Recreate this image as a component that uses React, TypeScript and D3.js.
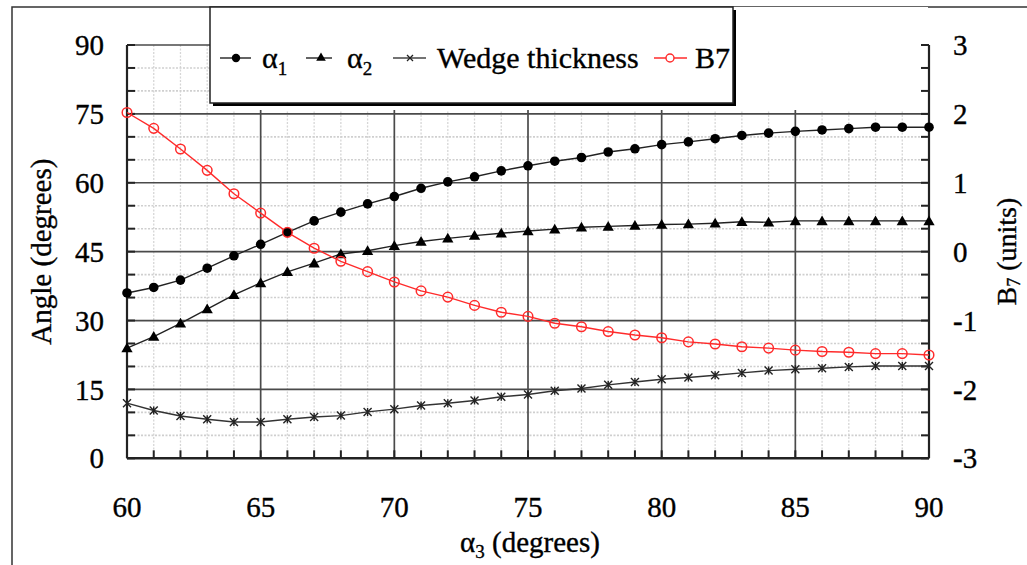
import React from "react";
import * as d3 from "d3";

const alpha3 = [60, 61, 62, 63, 64, 65, 66, 67, 68, 69, 70, 71, 72, 73, 74, 75, 76, 77, 78, 79, 80, 81, 82, 83, 84, 85, 86, 87, 88, 89, 90];
const alpha1 = [36.0, 37.2, 38.8, 41.4, 44.1, 46.6, 49.2, 51.7, 53.6, 55.4, 57.0, 58.8, 60.2, 61.3, 62.6, 63.7, 64.7, 65.5, 66.7, 67.4, 68.3, 68.9, 69.6, 70.3, 70.8, 71.2, 71.5, 71.8, 72.1, 72.1, 72.1];
const alpha2 = [24.0, 26.5, 29.4, 32.5, 35.6, 38.2, 40.6, 42.5, 44.5, 45.2, 46.3, 47.2, 47.9, 48.5, 49.0, 49.5, 49.9, 50.3, 50.5, 50.7, 50.9, 51.0, 51.2, 51.5, 51.4, 51.7, 51.7, 51.7, 51.7, 51.7, 51.7];
const wedge = [12.0, 10.4, 9.2, 8.5, 7.9, 7.9, 8.5, 9.0, 9.3, 10.1, 10.7, 11.5, 12.0, 12.6, 13.4, 13.9, 14.7, 15.2, 16.0, 16.6, 17.2, 17.6, 18.1, 18.6, 19.1, 19.4, 19.6, 19.9, 20.1, 20.1, 20.1];
const b7 = [2.02, 1.79, 1.49, 1.18, 0.84, 0.56, 0.28, 0.05, -0.14, -0.29, -0.44, -0.57, -0.66, -0.78, -0.88, -0.94, -1.04, -1.09, -1.16, -1.21, -1.25, -1.31, -1.34, -1.38, -1.40, -1.43, -1.45, -1.46, -1.48, -1.48, -1.50];

const xTicks = [60, 65, 70, 75, 80, 85, 90];
const xMinor = [61, 62, 63, 64, 66, 67, 68, 69, 71, 72, 73, 74, 76, 77, 78, 79, 81, 82, 83, 84, 86, 87, 88, 89];
const yLeftTicks = [0, 15, 30, 45, 60, 75, 90];
const yLeftMinor = [5, 10, 20, 25, 35, 40, 50, 55, 65, 70, 80, 85];
const yRightTicks = [-3, -2, -1, 0, 1, 2, 3];

const FONT = "'Liberation Serif', 'Times New Roman', serif";
const RED = "#ff2b2b";

export default function App() {
  const W = 1027, H = 565;
  const x = d3.scaleLinear().domain([60, 90]).range([127, 929]);
  const yL = d3.scaleLinear().domain([0, 90]).range([458.3, 45]);
  const yR = d3.scaleLinear().domain([-3, 3]).range([458.3, 45]);
  const [x0, x1] = x.range();
  const [yb, yt] = yL.range();

  const lineL = d3.line<number>().x((_, i) => x(alpha3[i])).y((d) => yL(d));
  const lineR = d3.line<number>().x((_, i) => x(alpha3[i])).y((d) => yR(d));
  const tri = d3.symbol(d3.symbolTriangle, 55)()!;

  const xMark = (cx: number, cy: number, k: string | number) => (
    <g key={k} transform={`translate(${cx},${cy})`} stroke="#222" strokeWidth={1.4} fill="none">
      <path d="M-4,-4L4,4M-4,4L4,-4M0,-4V4" />
    </g>
  );

  const lg = { x: 210, y: 7, w: 523, h: 96 };
  const ly = 58;
  const txt = { fill: "#000", stroke: "#000", strokeWidth: 0.35 };

  return (
    <svg width={W} height={H} style={{ position: "absolute", left: 0, top: 0, background: "#fff" }} fontFamily={FONT}>
      <rect x={0} y={0} width={W} height={H} fill="#fff" />
      <path d={`M12,${H}V7H${W}`} fill="none" stroke="#333" strokeWidth={1.5} />

      {xMinor.map((v) => (
        <line key={"xm" + v} x1={x(v)} x2={x(v)} y1={yt} y2={yb} stroke="#d6d6d6" strokeWidth={1.3} strokeDasharray="2,1.5" />
      ))}
      {yLeftMinor.map((v) => (
        <line key={"ym" + v} x1={x0} x2={x1} y1={yL(v)} y2={yL(v)} stroke="#cfcfcf" strokeWidth={1.6} strokeDasharray="2,1.5" />
      ))}
      {xTicks.slice(1, -1).map((v) => (
        <line key={"xM" + v} x1={x(v)} x2={x(v)} y1={yt} y2={yb} stroke="#4a4a4a" strokeWidth={1.7} />
      ))}
      {yLeftTicks.slice(1).map((v) => (
        <line key={"yM" + v} x1={x0} x2={x1} y1={yL(v)} y2={yL(v)} stroke="#4a4a4a" strokeWidth={1.7} />
      ))}

      <rect x={lg.x} y={lg.y} width={x1 - lg.x - 1} height={110 - lg.y} fill="#fff" />

      <line x1={x0} x2={x0} y1={yt} y2={yb} stroke="#222" strokeWidth={2.2} />
      <line x1={x1} x2={x1} y1={yt} y2={yb} stroke="#222" strokeWidth={2.2} />
      <line x1={x0} x2={x1} y1={yb} y2={yb} stroke="#222" strokeWidth={2.4} />
      {yLeftMinor.concat(yLeftTicks).map((v) => (
        <line key={"lt" + v} x1={x0} x2={x0 + 8} y1={yL(v)} y2={yL(v)} stroke="#222" strokeWidth={2} />
      ))}
      {yLeftMinor.concat(yLeftTicks).map((v) => (
        <line key={"rt" + v} x1={x1 - 8} x2={x1} y1={yL(v)} y2={yL(v)} stroke="#222" strokeWidth={2} />
      ))}
      {xMinor.concat(xTicks).map((v) => (
        <line key={"bt" + v} x1={x(v)} x2={x(v)} y1={yb - 8} y2={yb} stroke="#222" strokeWidth={2} />
      ))}

      <path d={lineL(alpha1)!} fill="none" stroke="#222" strokeWidth={1.4} />
      <path d={lineL(alpha2)!} fill="none" stroke="#222" strokeWidth={1.4} />
      <path d={lineL(wedge)!} fill="none" stroke="#333" strokeWidth={1.4} />
      <path d={lineR(b7)!} fill="none" stroke={RED} strokeWidth={1.4} />
      {alpha1.map((v, i) => (
        <circle key={"a1" + i} cx={x(alpha3[i])} cy={yL(v)} r={4.8} fill="#000" />
      ))}
      {alpha2.map((v, i) => (
        <path key={"a2" + i} d={tri} transform={`translate(${x(alpha3[i])},${yL(v) + 1})`} fill="#000" />
      ))}
      {wedge.map((v, i) => xMark(x(alpha3[i]), yL(v), "w" + i))}
      {b7.map((v, i) => (
        <circle key={"b" + i} cx={x(alpha3[i])} cy={yR(v)} r={4.8} fill="none" stroke={RED} strokeWidth={1.5} />
      ))}

      {yLeftTicks.map((v) => (
        <text key={"ll" + v} x={104} y={yL(v)} dy="0.35em" textAnchor="end" fontSize={29} {...txt}>{v}</text>
      ))}
      {yRightTicks.map((v) => (
        <text key={"rl" + v} x={953} y={yR(v)} dy="0.35em" textAnchor="start" fontSize={29} {...txt}>{v < 0 ? "-" + Math.abs(v) : v}</text>
      ))}
      {xTicks.map((v) => (
        <text key={"xl" + v} x={x(v)} y={517} textAnchor="middle" fontSize={29} {...txt}>{v}</text>
      ))}

      <text x={530} y={552} textAnchor="middle" fontSize={29} {...txt}>
        α<tspan fontSize={19} dy={6}>3</tspan><tspan dy={-6}> (degrees)</tspan>
      </text>
      <text transform={`translate(51,${(yt + yb) / 2}) rotate(-90)`} textAnchor="middle" fontSize={29} {...txt}>Angle (degrees)</text>
      <text transform={`translate(1016,${(yt + yb) / 2}) rotate(-90)`} textAnchor="middle" fontSize={28} {...txt}>
        B<tspan fontSize={18} dy={4}>7</tspan><tspan dy={-4}> (units)</tspan>
      </text>

      <rect x={lg.x + 3} y={lg.y + 3} width={lg.w} height={lg.h} fill="#000" />
      <rect x={lg.x} y={lg.y} width={lg.w} height={lg.h} fill="#fff" stroke="#222" strokeWidth={1.5} />
      <line x1={220} x2={251} y1={ly} y2={ly} stroke="#222" strokeWidth={1.4} />
      <circle cx={236} cy={ly} r={4.2} fill="#000" />
      <text x={262} y={68} fontSize={30} {...txt}>α<tspan fontSize={19} dy={7}>1</tspan></text>
      <line x1={306} x2={332} y1={ly} y2={ly} stroke="#222" strokeWidth={1.4} />
      <path d={d3.symbol(d3.symbolTriangle, 40)()!} transform={`translate(321,${ly})`} fill="#000" />
      <text x={347} y={68} fontSize={30} {...txt}>α<tspan fontSize={19} dy={7}>2</tspan></text>
      <line x1={393} x2={426} y1={ly} y2={ly} stroke="#444" strokeWidth={1.4} />
      <path d="M-3,-3L3,3M-3,3L3,-3" transform={`translate(410,${ly})`} stroke="#222" strokeWidth={1.3} />
      <text x={437} y={68} fontSize={30} {...txt}>Wedge thickness</text>
      <line x1={654} x2={687} y1={ly} y2={ly} stroke={RED} strokeWidth={1.4} />
      <circle cx={670} cy={ly} r={4} fill="#fff" stroke={RED} strokeWidth={1.4} />
      <text x={695} y={68} fontSize={30} {...txt}>B7</text>
    </svg>
  );
}
